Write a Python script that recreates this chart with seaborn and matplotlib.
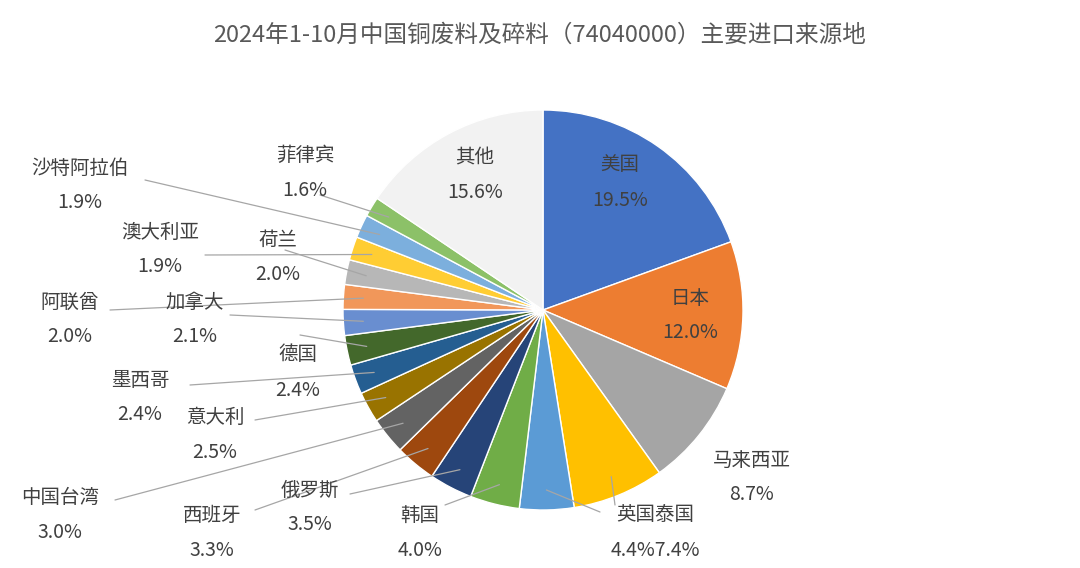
import matplotlib
matplotlib.use("Agg")
import matplotlib.pyplot as plt
from matplotlib import font_manager
import seaborn as sns
import numpy as np

sns.set_theme(style="white")
cands = ["Noto Sans CJK SC", "Noto Sans CJK JP", "Noto Sans CJK TC", "Noto Sans CJK KR"]
avail = {f.name for f in font_manager.fontManager.ttflist}
fams = [c for c in cands if c in avail] + ["DejaVu Sans"]
plt.rcParams["font.family"] = fams

countries = ["美国", "日本", "马来西亚", "泰国", "英国", "韩国", "俄罗斯", "西班牙", "中国台湾",
             "意大利", "墨西哥", "德国", "加拿大", "阿联酋", "荷兰", "澳大利亚", "沙特阿拉伯", "菲律宾", "其他"]
shares = [19.5, 12.0, 8.7, 7.4, 4.4, 4.0, 3.5, 3.3, 3.0, 2.5, 2.4, 2.4, 2.1, 2.0, 2.0, 1.9, 1.9, 1.6, 15.6]
colors = ["#4472C4", "#ED7D31", "#A5A5A5", "#FFC000", "#5B9BD5", "#70AD47", "#264478", "#9E480E",
          "#636363", "#997300", "#255E91", "#43682B", "#698ED0", "#F1975A", "#B7B7B7", "#FFCD33",
          "#7CAFDD", "#8CC168", "#F2F2F2"]
title = "2024年1-10月中国铜废料及碎料（74040000）主要进口来源地"

W, H = 1080, 568
fig = plt.figure(figsize=(10.8, 5.68), dpi=100)
ax = fig.add_axes([0, 0, 1, 1])

cx, cy, R = 543, H - 310, 200
wedges, _ = ax.pie(shares, colors=colors, startangle=90, counterclock=False, center=(cx, cy),
                   radius=R, wedgeprops=dict(edgecolor="white", linewidth=1.0), frame=True)
ax.set_xlim(0, W); ax.set_ylim(0, H); ax.set_aspect("equal"); ax.axis("off")

tc = "#404040"
fs = 14
def lbl(x, y, name, pct, color=tc):
    ax.text(x, H - y, name, ha="center", va="center", fontsize=fs, color=color)
    ax.text(x, H - y - 35, pct, ha="center", va="center", fontsize=fs, color=color)

lbl(620, 165, "美国", "19.5%")
lbl(690, 298, "日本", "12.0%")
lbl(475, 158, "其他", "15.6%")

outside = {
    2: (752, 460, None),
    5: (420, 515, (445, 505)),
    6: (310, 490, (350, 494)),
    7: (212, 515, (255, 510)),
    8: (60, 497, (115, 500)),
    9: (215, 417, (255, 420)),
    10: (140, 380, (190, 385)),
    11: (298, 355, (300, 335)),
    12: (195, 302, (230, 315)),
    13: (70, 302, (110, 310)),
    14: (278, 240, (285, 250)),
    15: (160, 232, (205, 255)),
    16: (80, 168, (145, 180)),
    17: (305, 155, (320, 195)),
}
cum = np.cumsum([0] + shares)
tot = sum(shares)
for i, (x, y, anc) in outside.items():
    lbl(x, y, countries[i], f"{shares[i]:.1f}%")
    if anc is not None:
        mid = 90 - 360 * (cum[i] + shares[i] / 2) / tot
        px = cx + 0.9 * R * np.cos(np.radians(mid))
        py = cy + 0.9 * R * np.sin(np.radians(mid))
        ax.plot([anc[0], px], [H - anc[1], py], color="#A6A6A6", lw=0.9)

ax.text(655, H - 515, "英国泰国", ha="center", va="center", fontsize=fs, color=tc)
ax.text(655, H - 550, f"{shares[4]:.1f}%{shares[3]:.1f}%", ha="center", va="center", fontsize=fs, color=tc)
for i, anc in [(4, (600, 512)), (3, (615, 505))]:
    mid = 90 - 360 * (cum[i] + shares[i] / 2) / tot
    px = cx + 0.9 * R * np.cos(np.radians(mid)); py = cy + 0.9 * R * np.sin(np.radians(mid))
    ax.plot([anc[0], px], [H - anc[1], py], color="#A6A6A6", lw=0.9)

ax.text(540, H - 35, title, ha="center", va="center", fontsize=17, color="#595959")
fig.savefig("out.png", dpi=100)
